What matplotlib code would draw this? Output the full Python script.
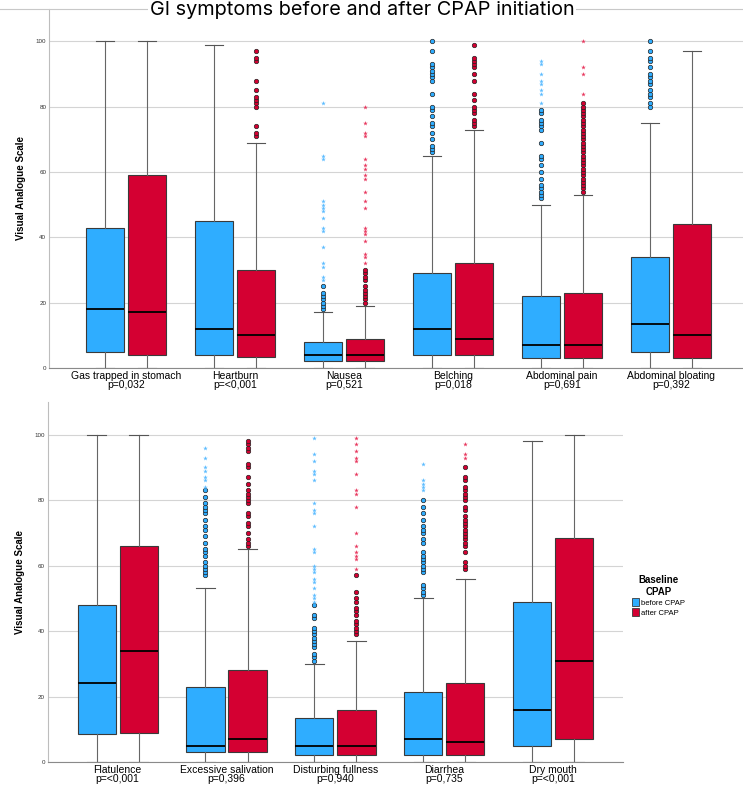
"""
GI symptoms before and after CPAP initiation - box plots.
"""

import matplotlib.pyplot as plt
from matplotlib.lines import Line2D
from matplotlib.patches import Patch

BLUE = "#2fadff"
RED = "#d40032"
BLUE_STAR = "#5cbcff"
RED_STAR = "#e8385f"

# ---- top panel ----
top_labels = ["Gas trapped in stomach", "Heartburn", "Nausea",
              "Belching", "Abdominal pain", "Abdominal bloating"]
top_pvals = ["p=0,032", "p=<0,001", "p=0,521", "p=0,018", "p=0,691", "p=0,392"]

top_before_low = [0, 0, 0, 0, 0, 0]
top_before_q1 = [5, 4, 2, 4, 3, 5]
top_before_med = [18, 12, 4, 12, 7, 13.5]
top_before_q3 = [43, 45, 8, 29, 22, 34]
top_before_high = [100, 99, 17, 65, 50, 75]

top_after_low = [0, 0, 0, 0, 0, 0]
top_after_q1 = [4, 3.5, 2, 4, 3, 3]
top_after_med = [17, 10, 4, 9, 7, 10]
top_after_q3 = [59, 30, 9, 32, 23, 44]
top_after_high = [100, 69, 19, 73, 53, 97]

top_before_circles = [
    [], [],
    [18, 19, 20, 21, 22, 23, 25],
    [66, 67, 68, 70, 72, 74, 75, 77, 79, 80, 84, 88, 89, 90, 91, 92, 93, 97, 100],
    [52, 53, 54, 55, 56, 58, 60, 62, 64, 65, 69, 73, 74, 75, 76, 78, 79],
    [80, 81, 83, 84, 85, 87, 88, 89, 90, 92, 94, 95, 97, 100],
]
top_before_stars = [
    [], [],
    [27, 28, 31, 32, 37, 42, 43, 46, 48, 49, 50, 51, 64, 65, 81],
    [],
    [81, 84, 85, 87, 88, 90, 93, 94],
    [],
]
top_after_circles = [
    [],
    [71, 72, 74, 80, 81, 82, 83, 85, 88, 94, 95, 97],
    [20, 21, 22, 23, 24, 25, 27, 28, 29, 30],
    [74, 75, 76, 78, 79, 80, 82, 84, 88, 90, 92, 93, 94, 95, 99],
    [54, 55, 56, 57, 58, 59, 60, 61, 62, 63, 64, 65, 66, 67, 68, 69, 70,
     71, 72, 73, 74, 75, 76, 77, 78, 79, 80, 81],
    [],
]
top_after_stars = [
    [], [],
    [32, 34, 35, 39, 41, 42, 43, 49, 51, 54, 58, 59, 61, 62, 64, 71, 72, 75, 80],
    [],
    [84, 90, 92, 100],
    [],
]

# ---- bottom panel ----
bottom_labels = ["Flatulence", "Excessive salivation", "Disturbing fullness",
                 "Diarrhea", "Dry mouth"]
bottom_pvals = ["p=<0,001", "p=0,396", "p=0,940", "p=0,735", "p=<0,001"]

bottom_before_low = [0, 0, 0, 0, 0]
bottom_before_q1 = [8.5, 3, 2, 2, 5]
bottom_before_med = [24, 5, 5, 7, 16]
bottom_before_q3 = [48, 23, 13.5, 21.5, 49]
bottom_before_high = [100, 53, 30, 50, 98]

bottom_after_low = [0, 0, 0, 0, 0]
bottom_after_q1 = [9, 3, 2, 2, 7]
bottom_after_med = [34, 7, 5, 6, 31]
bottom_after_q3 = [66, 28, 16, 24, 68.5]
bottom_after_high = [100, 65, 37, 56, 100]

bottom_before_circles = [
    [],
    [57, 58, 59, 60, 61, 63, 64, 65, 67, 69, 71, 72, 74, 76, 77, 78, 79, 81, 83],
    [31, 32, 33, 35, 36, 37, 38, 39, 40, 41, 44, 45, 48],
    [51, 52, 53, 54, 58, 59, 60, 61, 62, 63, 64, 67, 68, 70, 71, 72, 74, 76, 78, 80],
    [],
]
bottom_before_stars = [
    [],
    [84, 86, 87, 89, 90, 93, 96],
    [49, 50, 51, 53, 55, 56, 58, 59, 60, 64, 65, 72, 76, 77, 79, 86, 88, 89, 92, 94, 99],
    [83, 84, 85, 86, 91],
    [],
]
bottom_after_circles = [
    [],
    [66, 67, 68, 70, 72, 73, 75, 76, 79, 80, 81, 82, 83, 85, 87, 90, 91, 95, 96, 97, 98],
    [39, 40, 41, 42, 43, 45, 46, 47, 49, 50, 52, 57],
    [59, 60, 61, 64, 66, 67, 68, 69, 70, 71, 72, 73, 74, 75, 77, 78, 80, 81,
     82, 83, 84, 86, 87, 90],
    [],
]
bottom_after_stars = [
    [],
    [],
    [59, 62, 63, 64, 66, 70, 78, 82, 83, 88, 92, 93, 95, 97, 99],
    [93, 94, 97],
    [],
]

yticks = [0, 20, 40, 60, 80, 100]

plt.rcParams["font.family"] = ["Liberation Sans", "DejaVu Sans"]


def make_stats(low, q1, med, q3, high):
    return [
        {"whislo": a, "q1": b, "med": c, "q3": d, "whishi": e, "fliers": []}
        for a, b, c, d, e in zip(low, q1, med, q3, high)
    ]


def draw_series(ax, stats, positions, color, circles, stars, star_color):
    bp = ax.bxp(
        stats,
        positions=positions,
        widths=0.35,
        capwidths=0.17,
        patch_artist=True,
        showfliers=False,
        boxprops=dict(facecolor=color, edgecolor="#3a3a3a", linewidth=0.8),
        medianprops=dict(color="black", linewidth=1.3),
        whiskerprops=dict(color="#666666", linewidth=0.8),
        capprops=dict(color="#555555", linewidth=0.8),
    )
    for pos, c_vals, s_vals in zip(positions, circles, stars):
        if c_vals:
            ax.plot([pos] * len(c_vals), c_vals, "o", color=color,
                    markersize=3.2, markeredgecolor="#222222",
                    markeredgewidth=0.5, zorder=4)
        if s_vals:
            ax.plot([pos] * len(s_vals), s_vals, "*", color=star_color,
                    markersize=3.5, markeredgewidth=0, zorder=4)
    return bp


def draw_panel(ax, labels, pvals, before, after, b_circ, b_star, a_circ, a_star,
               xlim):
    n = len(labels)
    centers = list(range(n))
    draw_series(ax, before, [c - 0.193 for c in centers], BLUE,
                b_circ, b_star, BLUE_STAR)
    draw_series(ax, after, [c + 0.193 for c in centers], RED,
                a_circ, a_star, RED_STAR)

    ax.set_xlim(*xlim)
    ax.set_ylim(0, 110)
    ax.set_yticks(yticks)
    ax.set_yticklabels([str(t) for t in yticks], fontsize=4.5, color="#333333")
    ax.set_xticks(centers)
    ax.set_xticklabels([f"{l}\n{p}" for l, p in zip(labels, pvals)],
                       fontsize=7.5, linespacing=0.85)
    ax.tick_params(axis="both", length=0, pad=2)
    ax.grid(True, axis="y", color="#d4d4d4", linewidth=0.8)
    ax.set_axisbelow(True)
    for side in ["top", "right"]:
        ax.spines[side].set_visible(False)
    ax.spines["left"].set_color("#bdbdbd")
    ax.spines["bottom"].set_color("#8a8a8a")
    ax.set_ylabel("Visual Analogue Scale", fontsize=7, fontweight="bold",
                  labelpad=7)


fig = plt.figure(figsize=(7.43, 7.88), dpi=100)

ax1 = fig.add_axes([0.066, 0.533, 0.934, 0.456])
draw_panel(
    ax1, top_labels, top_pvals,
    make_stats(top_before_low, top_before_q1, top_before_med,
               top_before_q3, top_before_high),
    make_stats(top_after_low, top_after_q1, top_after_med,
               top_after_q3, top_after_high),
    top_before_circles, top_before_stars, top_after_circles, top_after_stars,
    (-0.706, 5.66),
)

ax2 = fig.add_axes([0.064, 0.033, 0.7745, 0.457])
draw_panel(
    ax2, bottom_labels, bottom_pvals,
    make_stats(bottom_before_low, bottom_before_q1, bottom_before_med,
               bottom_before_q3, bottom_before_high),
    make_stats(bottom_after_low, bottom_after_q1, bottom_after_med,
               bottom_after_q3, bottom_after_high),
    bottom_before_circles, bottom_before_stars,
    bottom_after_circles, bottom_after_stars,
    (-0.643, 4.64),
)

# separator line across the top, behind the title
fig.add_artist(Line2D([0, 1], [1 - 9 / 788, 1 - 9 / 788], color="#c8c8c8",
                      linewidth=0.8, transform=fig.transFigure))

fig.text(
    0.487, 1 - 10 / 788, "GI symptoms before and after CPAP initiation",
    ha="center", va="center", fontsize=14.3, family=["Inter", "DejaVu Sans"],
    bbox=dict(facecolor="white", edgecolor="none", pad=1),
)

handles = [
    Patch(facecolor=BLUE, edgecolor="#3a3a3a", linewidth=0.6, label="before CPAP"),
    Patch(facecolor=RED, edgecolor="#3a3a3a", linewidth=0.6, label="after CPAP"),
]
leg = fig.legend(
    handles=handles,
    title="Baseline\nCPAP",
    loc="upper left",
    bbox_to_anchor=(627 / 743, 1 - 570 / 788),
    frameon=False,
    fontsize=5.5,
    title_fontproperties={"weight": "bold", "size": 7},
    alignment="center",
    handlelength=0.9,
    handleheight=1.2,
    handletextpad=0.2,
    labelspacing=0.2,
    borderpad=0.2,
)
leg.get_title().set_multialignment("center")

fig.savefig("out.png", dpi=100)
